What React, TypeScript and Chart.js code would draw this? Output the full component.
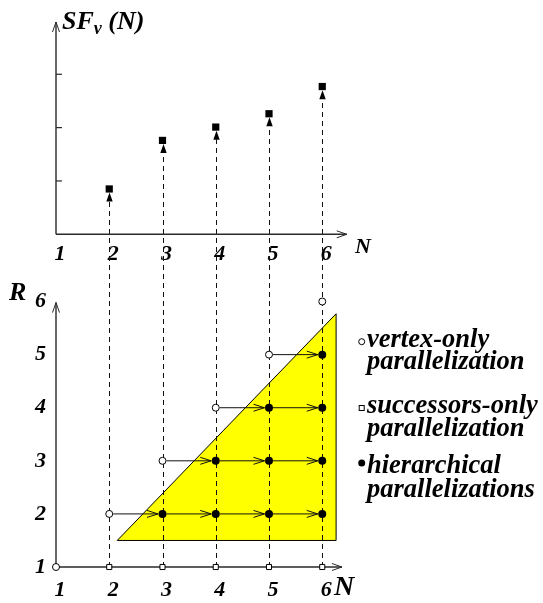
import React, { useEffect, useRef } from 'react';
import { Chart, registerables } from 'chart.js';

Chart.register(...registerables);

// ---------- data ----------
const N_VALUES = [2, 3, 4, 5, 6];
const SF_VALUES = [0.85, 1.76, 2.01, 2.26, 2.77];
const N_TICKS = [1, 2, 3, 4, 5, 6];
const SF_TICKS = [1, 2, 3];
const R_TICKS = [1, 2, 3, 4, 5, 6];

const VERTEX_ONLY_N = [1, 2, 3, 4, 5, 6];
const VERTEX_ONLY_R = [1, 2, 3, 4, 5, 6];
const SUCC_ONLY_N = [2, 3, 4, 5, 6];
const SUCC_ONLY_R = [1, 1, 1, 1, 1];
const HIER_N = [3, 4, 5, 6, 4, 5, 6, 5, 6, 6];
const HIER_R = [2, 2, 2, 2, 3, 3, 3, 4, 4, 5];

const ARROW_R = [2, 3, 4, 5];
const ARROW_FROM_N = [2, 3, 4, 5];
const ARROW_TO_N = [6, 6, 6, 6];

const REGION_N = [2.15, 6.26, 6.26];
const REGION_R = [1.5, 5.77, 1.5];

const LEGEND_LABELS = [
  ['vertex-only', 'parallelization'],
  ['successors-only', 'parallelization'],
  ['hierarchical', 'parallelizations'],
];
const LEGEND_MARKERS = ['open-circle', 'square', 'dot'];

// ---------- geometry / style ----------
const W = 543;
const TOP_H = 270;
const BOT_H = 333;
const X_MIN = 1;
const X_MAX = 6.5;
const AXIS_LEFT = 56;
const UNIT_X = 53.25;
const RIGHT_PAD = W - (AXIS_LEFT + (X_MAX - X_MIN) * UNIT_X);
const TOP_Y_MAX = 3.98;
const TOP_AXIS_Y = 234.3;
const TOP_X_END = 6.46;
const BOT_AXIS_Y = 567 - TOP_H;
const BOT_UNIT_Y = 53.3;
const BOT_Y_MAX = 6.5;
const BOT_Y_END = 5.98;
const BOT_X_END = 6.37;

const FONT = '"Liberation Serif", "Times New Roman", serif';
const bi = (px: number) => `italic bold ${px}px ${FONT}`;
const AXIS_COLOR = '#2a2a2a';

function chevronUp(ctx: CanvasRenderingContext2D, x: number, y: number, len = 10, half = 3.5) {
  ctx.beginPath();
  ctx.moveTo(x - half, y + len);
  ctx.lineTo(x, y);
  ctx.lineTo(x + half, y + len);
  ctx.stroke();
}
function chevronRight(ctx: CanvasRenderingContext2D, x: number, y: number, len = 10, half = 3.5) {
  ctx.beginPath();
  ctx.moveTo(x - len, y - half);
  ctx.lineTo(x, y);
  ctx.lineTo(x - len, y + half);
  ctx.stroke();
}

const SQ_HALF = 3.6;

const topPlugin = {
  id: 'topDecor',
  beforeDatasetsDraw(chart: any) {
    const { ctx } = chart;
    const x = chart.scales.x;
    const y = chart.scales.y;
    ctx.save();
    ctx.strokeStyle = '#111';
    ctx.fillStyle = '#000';
    ctx.lineWidth = 1;
    N_VALUES.forEach((n, i) => {
      const px = Math.round(x.getPixelForValue(n)) + 0.5;
      const tip = y.getPixelForValue(SF_VALUES[i]) + SQ_HALF;
      ctx.setLineDash([5, 4]);
      ctx.beginPath();
      ctx.moveTo(px, chart.height);
      ctx.lineTo(px, tip + 9);
      ctx.stroke();
      ctx.setLineDash([]);
      ctx.beginPath();
      ctx.moveTo(px, tip);
      ctx.lineTo(px - 3.2, tip + 9);
      ctx.lineTo(px + 3.2, tip + 9);
      ctx.closePath();
      ctx.fill();
    });
    ctx.strokeStyle = AXIS_COLOR;
    ctx.lineWidth = 1.4;
    const x0 = x.getPixelForValue(1);
    const y0 = y.getPixelForValue(0);
    const yTop = y.getPixelForValue(TOP_Y_MAX);
    const xEnd = x.getPixelForValue(TOP_X_END);
    ctx.beginPath();
    ctx.moveTo(x0, y0);
    ctx.lineTo(x0, yTop);
    ctx.moveTo(x0, y0);
    ctx.lineTo(xEnd, y0);
    ctx.stroke();
    ctx.lineWidth = 1;
    chevronUp(ctx, x0, yTop);
    chevronRight(ctx, xEnd, y0);
    ctx.lineWidth = 1.2;
    SF_TICKS.forEach((t) => {
      const py = y.getPixelForValue(t);
      ctx.beginPath();
      ctx.moveTo(x0, py);
      ctx.lineTo(x0 + 6, py);
      ctx.stroke();
    });
    ctx.restore();
  },
  afterDraw(chart: any) {
    const { ctx } = chart;
    ctx.save();
    ctx.fillStyle = '#000';
    ctx.textBaseline = 'alphabetic';
    ctx.textAlign = 'left';
    ctx.font = bi(26);
    ctx.fillText('SF', 62, 29);
    const wSF = ctx.measureText('SF').width;
    ctx.font = bi(18);
    ctx.fillText('v', 62 + wSF, 34);
    const wv = ctx.measureText('v').width;
    ctx.font = bi(26);
    ctx.fillText(' (N)', 62 + wSF + wv, 29);
    ctx.font = bi(22);
    ctx.fillText('N', 355, 253);
    ctx.restore();
  },
};

const botPlugin = {
  id: 'botDecor',
  beforeDatasetsDraw(chart: any) {
    const { ctx } = chart;
    const x = chart.scales.x;
    const y = chart.scales.y;
    ctx.save();
    ctx.beginPath();
    REGION_N.forEach((n, i) => {
      const px = x.getPixelForValue(n);
      const py = y.getPixelForValue(REGION_R[i]);
      if (i === 0) ctx.moveTo(px, py);
      else ctx.lineTo(px, py);
    });
    ctx.closePath();
    ctx.fillStyle = '#ffff00';
    ctx.fill();
    ctx.strokeStyle = '#000';
    ctx.lineWidth = 1;
    ctx.stroke();
    ctx.strokeStyle = '#111';
    ctx.setLineDash([5, 4]);
    N_VALUES.forEach((n) => {
      const px = Math.round(x.getPixelForValue(n)) + 0.5;
      ctx.beginPath();
      ctx.moveTo(px, y.getPixelForValue(1));
      ctx.lineTo(px, 0);
      ctx.stroke();
    });
    ctx.setLineDash([]);
    ctx.strokeStyle = AXIS_COLOR;
    ctx.lineWidth = 1.4;
    const x0 = x.getPixelForValue(1);
    const y0 = y.getPixelForValue(1);
    const yTop = y.getPixelForValue(BOT_Y_END);
    const xEnd = x.getPixelForValue(BOT_X_END);
    ctx.beginPath();
    ctx.moveTo(x0, y0);
    ctx.lineTo(x0, yTop);
    ctx.moveTo(x0, y0);
    ctx.lineTo(xEnd, y0);
    ctx.stroke();
    ctx.lineWidth = 1;
    chevronUp(ctx, x0, yTop);
    chevronRight(ctx, xEnd, y0);
    ctx.strokeStyle = '#111';
    ctx.lineWidth = 1;
    ARROW_R.forEach((r, i) => {
      const py = y.getPixelForValue(r);
      for (let n = ARROW_FROM_N[i]; n < ARROW_TO_N[i]; n++) {
        const a = x.getPixelForValue(n) + 4;
        const b = x.getPixelForValue(n + 1) - 4.5;
        ctx.beginPath();
        ctx.moveTo(a, py);
        ctx.lineTo(b, py);
        ctx.stroke();
        chevronRight(ctx, b, py, 11, 3.5);
      }
    });
    ctx.restore();
  },
  afterDraw(chart: any) {
    const { ctx } = chart;
    ctx.save();
    ctx.fillStyle = '#000';
    ctx.textAlign = 'left';
    ctx.textBaseline = 'alphabetic';
    ctx.font = bi(26);
    ctx.fillText('R', 9, 30);
    ctx.font = bi(28);
    ctx.fillText('N', 334, 325);
    const markerY = [71.7, 138, 193];
    const baselines = [[77, 99], [143, 166], [203, 227]];
    LEGEND_LABELS.forEach((lines, i) => {
      const m = LEGEND_MARKERS[i];
      const mx = 361.7;
      const my = markerY[i];
      ctx.lineWidth = 1;
      ctx.strokeStyle = '#000';
      if (m === 'open-circle') {
        ctx.beginPath();
        ctx.arc(mx, my, 3, 0, Math.PI * 2);
        ctx.fillStyle = '#fff';
        ctx.fill();
        ctx.stroke();
      } else if (m === 'square') {
        ctx.fillStyle = '#fff';
        ctx.fillRect(mx - 2.5, my - 2.5, 5, 5);
        ctx.strokeRect(mx - 2.5, my - 2.5, 5, 5);
      } else {
        ctx.beginPath();
        ctx.arc(mx, my, 3.5, 0, Math.PI * 2);
        ctx.fillStyle = '#000';
        ctx.fill();
      }
      ctx.fillStyle = '#000';
      ctx.font = bi(26.5);
      lines.forEach((t, j) => ctx.fillText(t, 367, baselines[i][j]));
    });
    ctx.restore();
  },
};

const tickFont = { family: FONT, size: 22, style: 'italic' as const, weight: 'bold' as const };

export default function App() {
  const topRef = useRef<HTMLCanvasElement>(null);
  const botRef = useRef<HTMLCanvasElement>(null);

  useEffect(() => {
    const common = {
      animation: false as const,
      responsive: false,
      devicePixelRatio: 1,
      events: [] as any[],
      plugins: { legend: { display: false }, tooltip: { enabled: false } },
    };

    const top = new Chart(topRef.current!, {
      type: 'scatter',
      data: {
        datasets: [
          {
            data: N_VALUES.map((n, i) => ({ x: n, y: SF_VALUES[i] })),
            pointStyle: 'rect',
            pointRadius: 5.1,
            backgroundColor: '#000',
            borderColor: '#000',
            borderWidth: 0,
            clip: false as any,
          },
        ],
      },
      options: {
        ...common,
        layout: { padding: { left: AXIS_LEFT, right: RIGHT_PAD, top: 22, bottom: 0 } },
        scales: {
          x: {
            type: 'linear',
            min: X_MIN,
            max: X_MAX,
            afterBuildTicks: (s: any) => {
              s.ticks = N_TICKS.map((v) => ({ value: v }));
            },
            afterFit: (s: any) => {
              s.height = TOP_H - TOP_AXIS_Y;
              s.paddingLeft = 0;
              s.paddingRight = 0;
            },
            grid: { display: false, drawTicks: false },
            border: { display: false },
            ticks: { font: tickFont, color: '#000', padding: 7, labelOffset: 4, autoSkip: false, maxRotation: 0 },
          },
          y: { type: 'linear', display: false, min: 0, max: TOP_Y_MAX },
        },
      },
      plugins: [topPlugin],
    } as any);

    const bot = new Chart(botRef.current!, {
      type: 'scatter',
      data: {
        datasets: [
          {
            label: 'vertex-only parallelization',
            data: VERTEX_ONLY_N.map((n, i) => ({ x: n, y: VERTEX_ONLY_R[i] })),
            pointStyle: 'circle',
            pointRadius: 3.5,
            backgroundColor: '#fff',
            borderColor: '#000',
            borderWidth: 1,
            clip: false as any,
          },
          {
            label: 'successors-only parallelization',
            data: SUCC_ONLY_N.map((n, i) => ({ x: n, y: SUCC_ONLY_R[i] })),
            pointStyle: 'rect',
            pointRadius: 3.6,
            backgroundColor: '#fff',
            borderColor: '#000',
            borderWidth: 1,
            clip: false as any,
          },
          {
            label: 'hierarchical parallelizations',
            data: HIER_N.map((n, i) => ({ x: n, y: HIER_R[i] })),
            pointStyle: 'circle',
            pointRadius: 4,
            backgroundColor: '#000',
            borderColor: '#000',
            borderWidth: 0,
            clip: false as any,
          },
        ],
      },
      options: {
        ...common,
        layout: { padding: { left: 0, right: RIGHT_PAD, top: BOT_AXIS_Y - (BOT_Y_MAX - 1) * BOT_UNIT_Y, bottom: 0 } },
        scales: {
          x: {
            type: 'linear',
            min: X_MIN,
            max: X_MAX,
            afterBuildTicks: (s: any) => {
              s.ticks = N_TICKS.map((v) => ({ value: v }));
            },
            afterFit: (s: any) => {
              s.height = BOT_H - BOT_AXIS_Y;
              s.paddingLeft = 0;
              s.paddingRight = 0;
            },
            grid: { display: false, drawTicks: false },
            border: { display: false },
            ticks: { font: tickFont, color: '#000', padding: 10, labelOffset: 4, autoSkip: false, maxRotation: 0 },
          },
          y: {
            type: 'linear',
            min: 1,
            max: BOT_Y_MAX,
            afterBuildTicks: (s: any) => {
              s.ticks = R_TICKS.map((v) => ({ value: v }));
            },
            afterFit: (s: any) => {
              s.width = AXIS_LEFT;
              s.paddingTop = 0;
              s.paddingBottom = 0;
            },
            grid: { display: false, drawTicks: false },
            border: { display: false },
            ticks: { font: tickFont, color: '#000', padding: 10, autoSkip: false },
          },
        },
      },
      plugins: [botPlugin],
    } as any);

    return () => {
      top.destroy();
      bot.destroy();
    };
  }, []);

  return (
    <div style={{ position: 'absolute', left: 0, top: 0, width: W, height: TOP_H + BOT_H, background: '#fff' }}>
      <canvas
        ref={topRef}
        width={W}
        height={TOP_H}
        style={{ position: 'absolute', left: 0, top: 0, width: W, height: TOP_H, display: 'block' }}
      />
      <canvas
        ref={botRef}
        width={W}
        height={BOT_H}
        style={{ position: 'absolute', left: 0, top: TOP_H, width: W, height: BOT_H, display: 'block' }}
      />
    </div>
  );
}
